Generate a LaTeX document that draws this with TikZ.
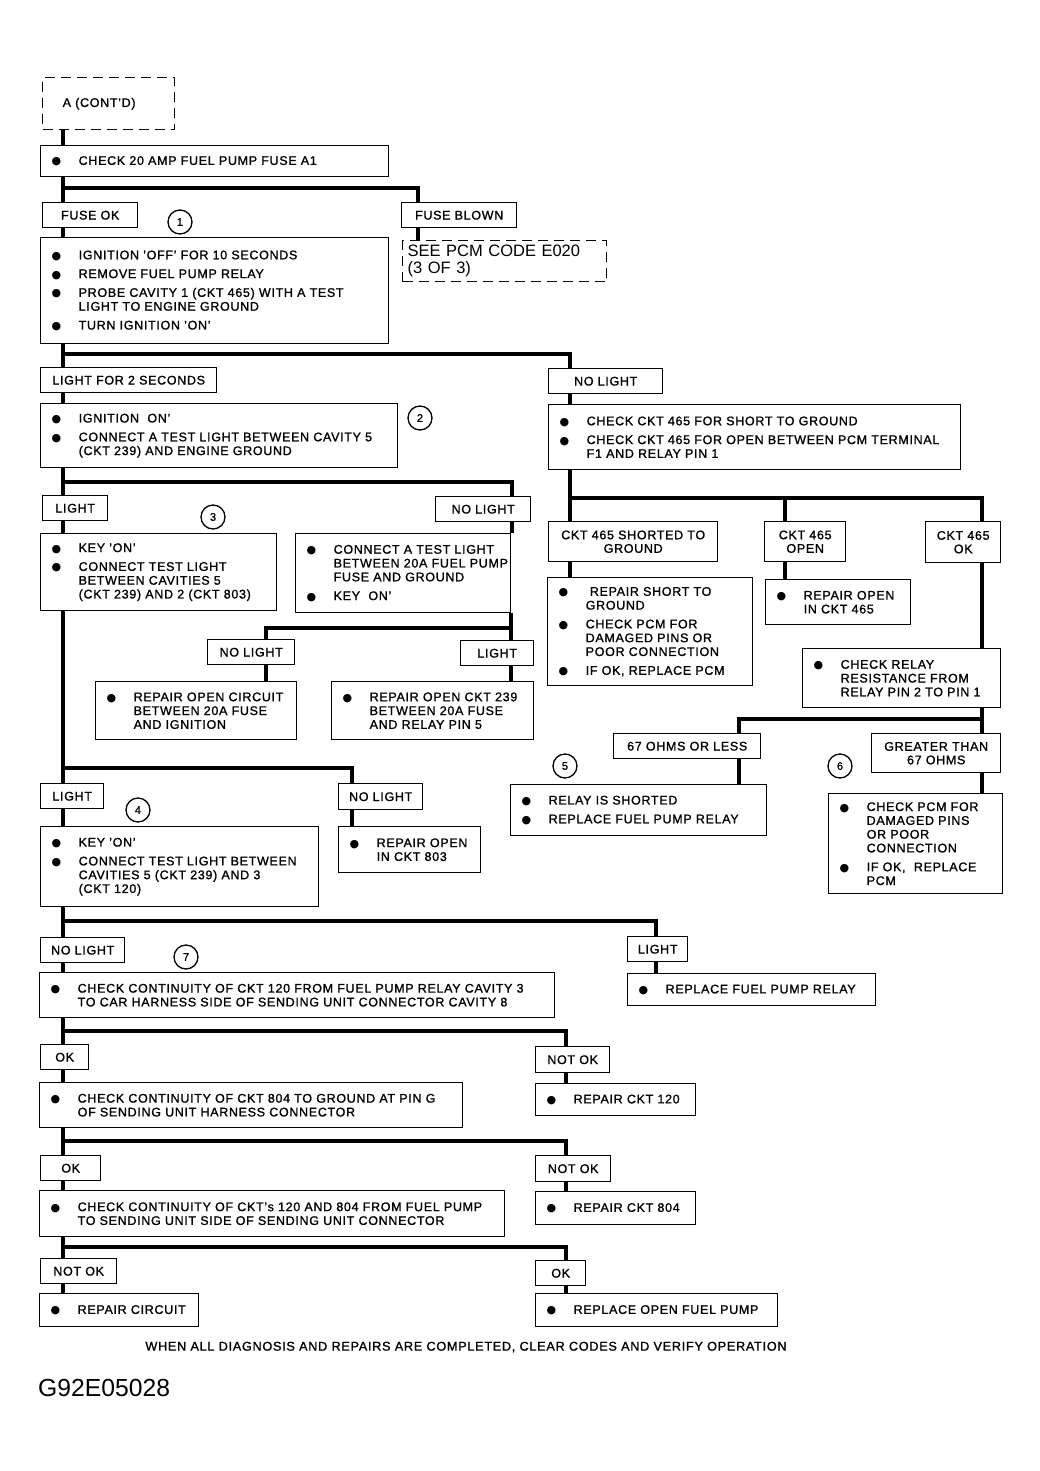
\documentclass[tikz,border=0pt]{standalone}
\usepackage{fontspec}
\setmainfont{Liberation Sans}[LetterSpace=5.5, FakeBold=1.2]
\newfontfamily\plainfont{Liberation Sans}
\newfontfamily\dotfont{DejaVu Sans}
\usetikzlibrary{positioning}

\newcommand{\bl}[1]{\mbox{\makebox[28pt][l]{\hspace{1pt}{\dotfont\fontsize{11}{11}\selectfont ●}}#1}}
\newcommand{\ind}[1]{\mbox{\hspace{28pt}#1}}

\tikzset{
  wire/.style={line width=3.2pt},
  box/.style 2 args={draw, line width=1.4pt, anchor=north west, minimum width=#1pt, minimum height=#2pt,
    inner sep=0pt, text width=#1pt-20pt, align=left, font=\fontsize{12.5}{13.8}\selectfont},
  lbl/.style 2 args={draw, line width=1.4pt, anchor=north west, minimum width=#1pt, minimum height=#2pt,
    inner sep=0pt, align=center, font=\fontsize{12.5}{13.5}\selectfont},
  dbox/.style 2 args={box={#1}{#2}, dash pattern=on 10pt off 6pt, text width=#1pt-40pt},
  num/.style={draw, circle, line width=1.3pt, minimum size=24pt, inner sep=0pt, font=\fontsize{11}{11}\selectfont},
}

\begin{document}
\begin{tikzpicture}[x=1pt, y=-1pt]
    \useasboundingbox (0,0) rectangle (1040,1471);
    \coordinate (tk) at (63,0);

    % top
    \node[dbox={132}{52}] (acont) at (42,77) {A (CONT'D)};
    \node[box={348}{31}] (chkfuse) at (40,145) {\bl{CHECK 20 AMP FUEL PUMP FUSE A1}};
    \node[lbl={95}{25}] (fuseok) at (42,202) {FUSE OK};
    \node[num] (c1) at (180,222) {1};
    \node[lbl={115}{25}] (fuseblown) at (401,202) {FUSE BLOWN};
    \node[dbox={204}{41}, text width=194pt, font=\plainfont\fontsize{16.5}{17}\selectfont] (seepcm) at (402,240) {SEE PCM CODE E020\\(3 OF 3)};
    \node[box={348}{106}] (step1) at (40,237) {\bl{IGNITION 'OFF' FOR 10 SECONDS}\\[5pt]
        \bl{REMOVE FUEL PUMP RELAY}\\[5pt]
        \bl{PROBE CAVITY 1 (CKT 465) WITH A TEST}\\\ind{LIGHT TO ENGINE GROUND}\\[5pt]
        \bl{TURN IGNITION 'ON'}};

    % light for 2 seconds / no light
    \node[lbl={176}{25}] (light2s) at (40,367) {LIGHT FOR 2 SECONDS};
    \node[lbl={114}{25}] (nolight1) at (548,368) {NO LIGHT};
    \node[box={357}{64}] (step2) at (40,403) {\bl{IGNITION\ \ ON'}\\[5pt]
        \bl{CONNECT A TEST LIGHT BETWEEN CAVITY 5}\\\ind{(CKT 239) AND ENGINE GROUND}};
    \node[num] (c2) at (420,418) {2};
    \node[box={412}{65}] (chk465) at (548,404) {\bl{CHECK CKT 465 FOR SHORT TO GROUND}\\[5pt]
        \bl{CHECK CKT 465 FOR OPEN BETWEEN PCM TERMINAL}\\\ind{F1 AND RELAY PIN 1}};

    \node[lbl={65}{25}] (light3) at (42,495) {LIGHT};
    \node[lbl={95}{25}] (nolight3) at (435,496) {NO LIGHT};
    \node[num] (c3) at (213,517) {3};
    \node[box={236}{77}] (step3) at (40,533) {\bl{KEY 'ON'}\\[5pt]
        \bl{CONNECT TEST LIGHT}\\\ind{BETWEEN CAVITIES 5}\\\ind{(CKT 239) AND 2 (CKT 803)}};
    \node[box={215}{79}] (fusetest) at (295,533) {\bl{CONNECT A TEST LIGHT}\\\ind{BETWEEN 20A FUEL PUMP}\\\ind{FUSE AND GROUND}\\[5pt]
        \bl{KEY\ \ ON'}};
    \node[lbl={87}{25}] (nolight4) at (207,639) {NO LIGHT};
    \node[lbl={73}{25}] (light4) at (460,640) {LIGHT};
    \node[box={201}{58}] (repign) at (95,681) {\bl{REPAIR OPEN CIRCUIT}\\\ind{BETWEEN 20A FUSE}\\\ind{AND IGNITION}};
    \node[box={202}{58}] (rep239) at (331,681) {\bl{REPAIR OPEN CKT 239}\\\ind{BETWEEN 20A FUSE}\\\ind{AND RELAY PIN 5}};

    \node[lbl={63}{25}] (light5) at (40,783) {LIGHT};
    \node[num] (c4) at (138,810) {4};
    \node[lbl={84}{26}] (nolight5) at (338,783) {NO LIGHT};
    \node[box={278}{80}] (step4) at (40,826) {\bl{KEY 'ON'}\\[5pt]
        \bl{CONNECT TEST LIGHT BETWEEN}\\\ind{CAVITIES 5 (CKT 239) AND 3}\\\ind{(CKT 120)}};
    \node[box={142}{46}] (rep803) at (338,826) {\bl{REPAIR OPEN}\\\ind{IN CKT 803}};

    % right hand side
    \node[lbl={169}{40}] (shorted) at (548,521) {CKT 465 SHORTED TO\\GROUND};
    \node[lbl={81}{40}] (open465) at (764,521) {CKT 465\\OPEN};
    \node[lbl={75}{41}] (ok465) at (925,521) {CKT 465\\OK};
    \node[box={205}{108}] (repshort) at (547,577) {\bl{ REPAIR SHORT TO}\\\ind{GROUND}\\[5pt]
        \bl{CHECK PCM FOR}\\\ind{DAMAGED PINS OR}\\\ind{POOR CONNECTION}\\[5pt]
        \bl{IF OK, REPLACE PCM}};
    \node[box={145}{45}] (repopen465) at (765,579) {\bl{REPAIR OPEN}\\\ind{IN CKT 465}};
    \node[box={198}{59}] (chkrelay) at (802,648) {\bl{CHECK RELAY}\\\ind{RESISTANCE FROM}\\\ind{RELAY PIN 2 TO PIN 1}};
    \node[lbl={147}{25}] (less67) at (613,733) {67 OHMS OR LESS};
    \node[lbl={129}{39}] (more67) at (871,733) {GREATER THAN\\67 OHMS};
    \node[num] (c5) at (565,766) {5};
    \node[num] (c6) at (840,766) {6};
    \node[box={256}{51}] (relayshort) at (510,784) {\bl{RELAY IS SHORTED}\\[5pt]\bl{REPLACE FUEL PUMP RELAY}};
    \node[box={174}{100}] (chkpcm) at (828,793) {\bl{CHECK PCM FOR}\\\ind{DAMAGED PINS}\\\ind{OR POOR}\\\ind{CONNECTION}\\[5pt]
        \bl{IF OK,\ \ REPLACE}\\\ind{PCM}};

    % bottom
    \node[lbl={84}{25}] (nolight7) at (40,937) {NO LIGHT};
    \node[num] (c7) at (186,957) {7};
    \node[lbl={60}{25}] (light7) at (627,936) {LIGHT};
    \node[box={515}{45}] (step7) at (39,972) {\bl{CHECK CONTINUITY OF CKT 120 FROM FUEL PUMP RELAY CAVITY 3}\\
        \ind{TO CAR HARNESS SIDE OF SENDING UNIT CONNECTOR CAVITY 8}};
    \node[box={248}{32}] (repfpr) at (627,973) {\bl{REPLACE FUEL PUMP RELAY}};
    \node[lbl={48}{25}] (ok8) at (40,1044) {OK};
    \node[lbl={74}{26}] (notok8) at (535,1046) {NOT OK};
    \node[box={423}{45}] (step8) at (39,1082) {\bl{CHECK CONTINUITY OF CKT 804 TO GROUND AT PIN G}\\
        \ind{OF SENDING UNIT HARNESS CONNECTOR}};
    \node[box={160}{32}] (rep120) at (535,1083) {\bl{REPAIR CKT 120}};
    \node[lbl={60}{25}] (ok9) at (40,1155) {OK};
    \node[lbl={75}{26}] (notok9) at (535,1155) {NOT OK};
    \node[box={465}{46}] (step9) at (39,1190) {\bl{CHECK CONTINUITY OF CKT's 120 AND 804 FROM FUEL PUMP}\\
        \ind{TO SENDING UNIT SIDE OF SENDING UNIT CONNECTOR}};
    \node[box={160}{33}] (rep804) at (535,1191) {\bl{REPAIR CKT 804}};
    \node[lbl={76}{25}] (notok10) at (40,1258) {NOT OK};
    \node[lbl={50}{25}] (ok10) at (535,1260) {OK};
    \node[box={159}{33}] (repcirc) at (39,1293) {\bl{REPAIR CIRCUIT}};
    \node[box={242}{33}] (repfp) at (535,1293) {\bl{REPLACE OPEN FUEL PUMP}};

    \node[font=\fontsize{12.7}{12.7}\selectfont] (footer) at (466,1347) {WHEN ALL DIAGNOSIS AND REPAIRS ARE COMPLETED, CLEAR CODES AND VERIFY OPERATION};
    \node[anchor=west, inner sep=0pt, font=\plainfont\fontsize{24.7}{26}\selectfont] (figid) at (38,1388) {G92E05028};

    % branch points
    \coordinate (b1) at (418,188);
    \coordinate (b2) at (570,354);
    \coordinate (b3) at (512,482);
    \coordinate (b4l) at (266,628);
    \coordinate (b4r) at (511,628);
    \coordinate (b5) at (352,768);
    \coordinate (b6l) at (570,498);
    \coordinate (b6m) at (785,498);
    \coordinate (b6r) at (982,498);
    \coordinate (b7l) at (739,719);
    \coordinate (b7r) at (982,719);
    \coordinate (b8) at (656,921);
    \coordinate (b9) at (566,1031);
    \coordinate (b10) at (566,1141);
    \coordinate (b11) at (566,1247);

    % connectors
    \draw[wire] (acont.south -| tk) -- (chkfuse.north -| tk);
    \draw[wire] (chkfuse.south -| tk) -- (fuseok.north -| tk);
    \draw[wire] (b1 -| tk) -- (b1) -- (b1 |- fuseblown.north);
    \draw[wire] (fuseok.south -| tk) -- (step1.north -| tk);
    \draw[wire] (fuseblown.south -| b1) -- (seepcm.north -| b1);

    \draw[wire] (step1.south -| tk) -- (light2s.north -| tk);
    \draw[wire] (b2 -| tk) -- (b2) -- (b2 |- nolight1.north);
    \draw[wire] (light2s.south -| tk) -- (step2.north -| tk);
    \draw[wire] (nolight1.south -| b2) -- (chk465.north -| b2);

    \draw[wire] (step2.south -| tk) -- (light3.north -| tk);
    \draw[wire] (b3 -| tk) -- (b3) -- (b3 |- nolight3.north);
    \draw[wire] (light3.south -| tk) -- (step3.north -| tk);
    \draw[wire] (nolight3.south -| b3) -- (fusetest.north -| b3);
    \draw[wire] (fusetest.south -| b4r) -- (b4r) -- (b4l) -- (b4l |- nolight4.north);
    \draw[wire] (b4r) -- (b4r |- light4.north);
    \draw[wire] (nolight4.south -| b4l) -- (repign.north -| b4l);
    \draw[wire] (light4.south -| b4r) -- (rep239.north -| b4r);

    \draw[wire] (step3.south -| tk) -- (light5.north -| tk);
    \draw[wire] (b5 -| tk) -- (b5) -- (b5 |- nolight5.north);
    \draw[wire] (light5.south -| tk) -- (step4.north -| tk);
    \draw[wire] (nolight5.south -| b5) -- (rep803.north -| b5);

    \draw[wire] (chk465.south -| b6l) -- (shorted.north -| b6l);
    \draw[wire] (b6l) -- (b6r) -- (ok465.north -| b6r);
    \draw[wire] (b6m) -- (open465.north -| b6m);
    \draw[wire] (shorted.south -| b6l) -- (repshort.north -| b6l);
    \draw[wire] (open465.south -| b6m) -- (repopen465.north -| b6m);
    \draw[wire] (ok465.south -| b6r) -- (chkrelay.north -| b6r);
    \draw[wire] (chkrelay.south -| b7r) -- (more67.north -| b7r);
    \draw[wire] (b7r) -- (b7l) -- (less67.north -| b7l);
    \draw[wire] (less67.south -| b7l) -- (relayshort.north -| b7l);
    \draw[wire] (more67.south -| b7r) -- (chkpcm.north -| b7r);

    \draw[wire] (step4.south -| tk) -- (nolight7.north -| tk);
    \draw[wire] (b8 -| tk) -- (b8) -- (b8 |- light7.north);
    \draw[wire] (nolight7.south -| tk) -- (step7.north -| tk);
    \draw[wire] (light7.south -| b8) -- (repfpr.north -| b8);

    \draw[wire] (step7.south -| tk) -- (ok8.north -| tk);
    \draw[wire] (b9 -| tk) -- (b9) -- (b9 |- notok8.north);
    \draw[wire] (ok8.south -| tk) -- (step8.north -| tk);
    \draw[wire] (notok8.south -| b9) -- (rep120.north -| b9);

    \draw[wire] (step8.south -| tk) -- (ok9.north -| tk);
    \draw[wire] (b10 -| tk) -- (b10) -- (b10 |- notok9.north);
    \draw[wire] (ok9.south -| tk) -- (step9.north -| tk);
    \draw[wire] (notok9.south -| b10) -- (rep804.north -| b10);

    \draw[wire] (step9.south -| tk) -- (notok10.north -| tk);
    \draw[wire] (b11 -| tk) -- (b11) -- (b11 |- ok10.north);
    \draw[wire] (notok10.south -| tk) -- (repcirc.north -| tk);
    \draw[wire] (ok10.south -| b11) -- (repfp.north -| b11);
\end{tikzpicture}
\end{document}
